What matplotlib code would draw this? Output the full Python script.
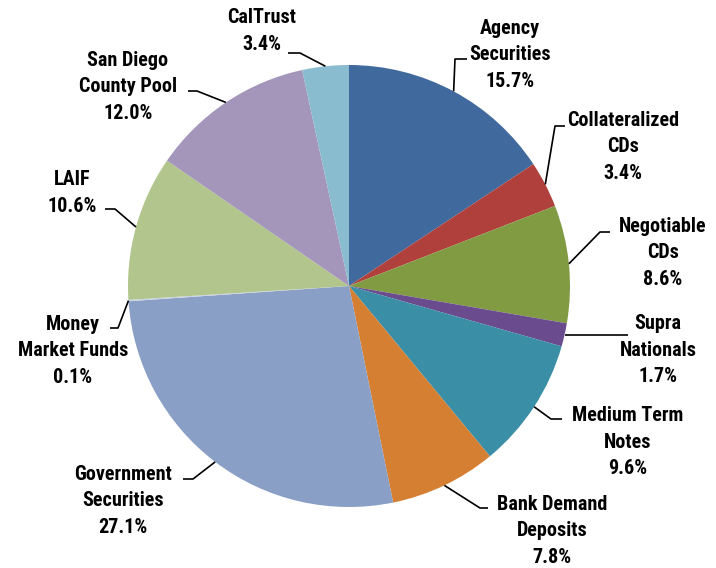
import numpy as np
import matplotlib.pyplot as plt
from matplotlib import font_manager

W, H = 716, 568

names = ["Agency\nSecurities", "Collateralized\nCDs", "Negotiable\nCDs", "Supra\nNationals",
         "Medium Term\nNotes", "Bank Demand\nDeposits", "Government\nSecurities",
         "Money\nMarket Funds", "LAIF", "San Diego\nCounty Pool", "CalTrust"]
shares = [15.7, 3.4, 8.6, 1.7, 9.6, 7.8, 27.1, 0.1, 10.6, 12.0, 3.4]
colors = ["#40699E", "#B0403C", "#819B43", "#6A4C8E", "#3A8EA6", "#D57F33",
          "#8A9FC6", "#C9D3E6", "#B1C58D", "#A496BA", "#8ABCD0"]

# label block centre, leader elbow, leader end (pixels, y from top)
text_pos = [(510, 55), (623, 147), (663, 253), (658, 350), (628, 442), (552, 531),
            (123, 501), (73, 351), (72, 193), (128, 87), (262, 31)]
elbows = [(455, 59), (555, 126), (600, 232), None, (551, 419), (480, 508),
          (193, 479), (118, 328), (115, 209), (197, 91), (300, 53)]
ends = [(467, 59), (565, 126), (610, 232), (628, None), (562, 419), (488, 508),
        (183, 479), (110, 328), (105, 209), (188, 91), (288, 53)]

CX, CY, R = 349, 286, 221

def py(y):
    return H - y

installed = {f.name for f in font_manager.fontManager.ttflist}
font = [f for f in ["Liberation Sans Narrow", "Roboto Condensed", "Lato"]
        if f in installed] + ["DejaVu Sans"]

fig = plt.figure(figsize=(W / 100, H / 100), dpi=100)
ax = fig.add_axes([0, 0, 1, 1])

wedges, _ = ax.pie(shares, colors=colors, startangle=90, counterclock=False,
                   center=(CX, py(CY)), radius=R, wedgeprops=dict(linewidth=0))
ax.set_xlim(0, W)
ax.set_ylim(0, H)
ax.set_aspect("equal")
ax.axis("off")

for w, name, val, tp, el, en in zip(wedges, names, shares, text_pos, elbows, ends):
    mid = np.deg2rad((w.theta1 + w.theta2) / 2)
    ax_x = CX + R * np.cos(mid)
    ax_y = py(CY) + R * np.sin(mid)
    if el is None:
        xs, ys = [ax_x, en[0]], [ax_y, ax_y]
    else:
        xs = [ax_x, el[0], en[0]]
        ys = [ax_y, py(el[1]), py(en[1])]
    ax.plot(xs, ys, color="black", lw=1.2, solid_capstyle="butt")
    ax.text(tp[0], py(tp[1]), f"{name}\n{val:.1f}%", ha="center", va="center",
            fontsize=14.5, fontweight="bold", family=font, linespacing=1.5)

fig.savefig("out.png", dpi=100)
